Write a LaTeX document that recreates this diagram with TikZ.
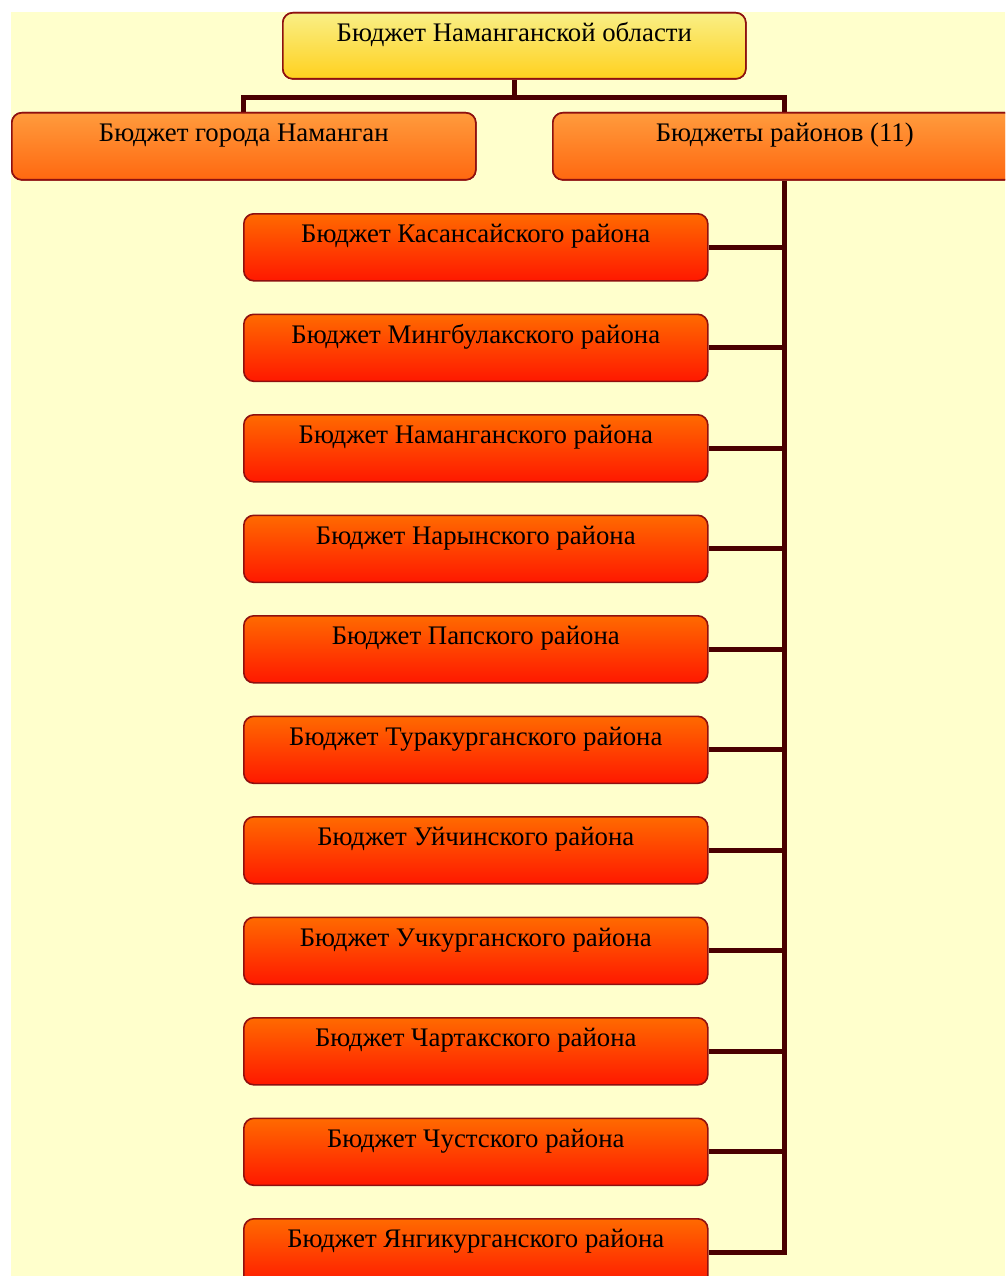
\documentclass[tikz,border=0pt]{standalone}
\usepackage{fontspec}
\setmainfont{Liberation Serif}
\definecolor{bgyellow}{HTML}{FFFFCC}
\definecolor{bordred}{HTML}{8E1010}
\definecolor{connred}{HTML}{4A0000}
\definecolor{ytop}{HTML}{F9EF86}
\definecolor{ybot}{HTML}{FFD11E}
\definecolor{otop}{HTML}{FF9B3D}
\definecolor{obot}{HTML}{FF6810}
\definecolor{rtop}{HTML}{FF6A00}
\definecolor{rbot}{HTML}{FF1800}
\tikzset{
  box/.style={rectangle, rounded corners=10pt, draw=bordred, line width=1.6pt,
    minimum width=464pt, inner xsep=0pt, inner ysep=0pt,
    text height=29pt, text depth=38pt, anchor=north west,
    font=\fontsize{26.8}{30}\selectfont, text=black},
  topbox/.style={box, top color=ytop, bottom color=ybot, minimum width=463pt, text depth=37pt},
  midbox/.style={box, top color=otop, bottom color=obot},
  distbox/.style={box, top color=rtop, bottom color=rbot},
  conn/.style={draw=connred, line width=5pt, line join=miter}
}
\begin{document}
\begin{tikzpicture}[x=1pt,y=-1pt]
\useasboundingbox (0,0) rectangle (1005,1276);
\clip (0,0) rectangle (1005,1276);
\fill[bgyellow] (11,12) rectangle (1005,1276);
\node[topbox] (top) at (282,12) {Бюджет Наманганской области};
\node[midbox] (city) at (11,112) {Бюджет города Наманган};
\node[midbox] (dist) at (552,112) {Бюджеты районов (11)};
\foreach \i/\t in {1/Касансайского, 2/Мингбулакского, 3/Наманганского, 4/Нарынского, 5/Папского, 6/Туракурганского, 7/Уйчинского, 8/Учкурганского, 9/Чартакского, 10/Чустского, 11/Янгикурганского}{
  \node[distbox] (d\i) at (243,{213+(\i-1)*100.5}) {Бюджет \t{} района};
}
\path (top.south) ++(0,18) coordinate (bus);
\draw[conn] (top.south) -- (bus);
\draw[conn] (city.north) |- (bus) -| (dist.north);
\draw[conn] (dist.south) -- (dist.south |- d11.east) -- (d11.east);
\foreach \i in {1,...,10}{
  \draw[conn] (d\i.east) -- (d\i.east -| dist.south);
}
% redraw boxes over connector ends
\node[topbox] at (282,12) {Бюджет Наманганской области};
\node[midbox] at (11,112) {Бюджет города Наманган};
\node[midbox] at (552,112) {Бюджеты районов (11)};
\end{tikzpicture}
\end{document}
